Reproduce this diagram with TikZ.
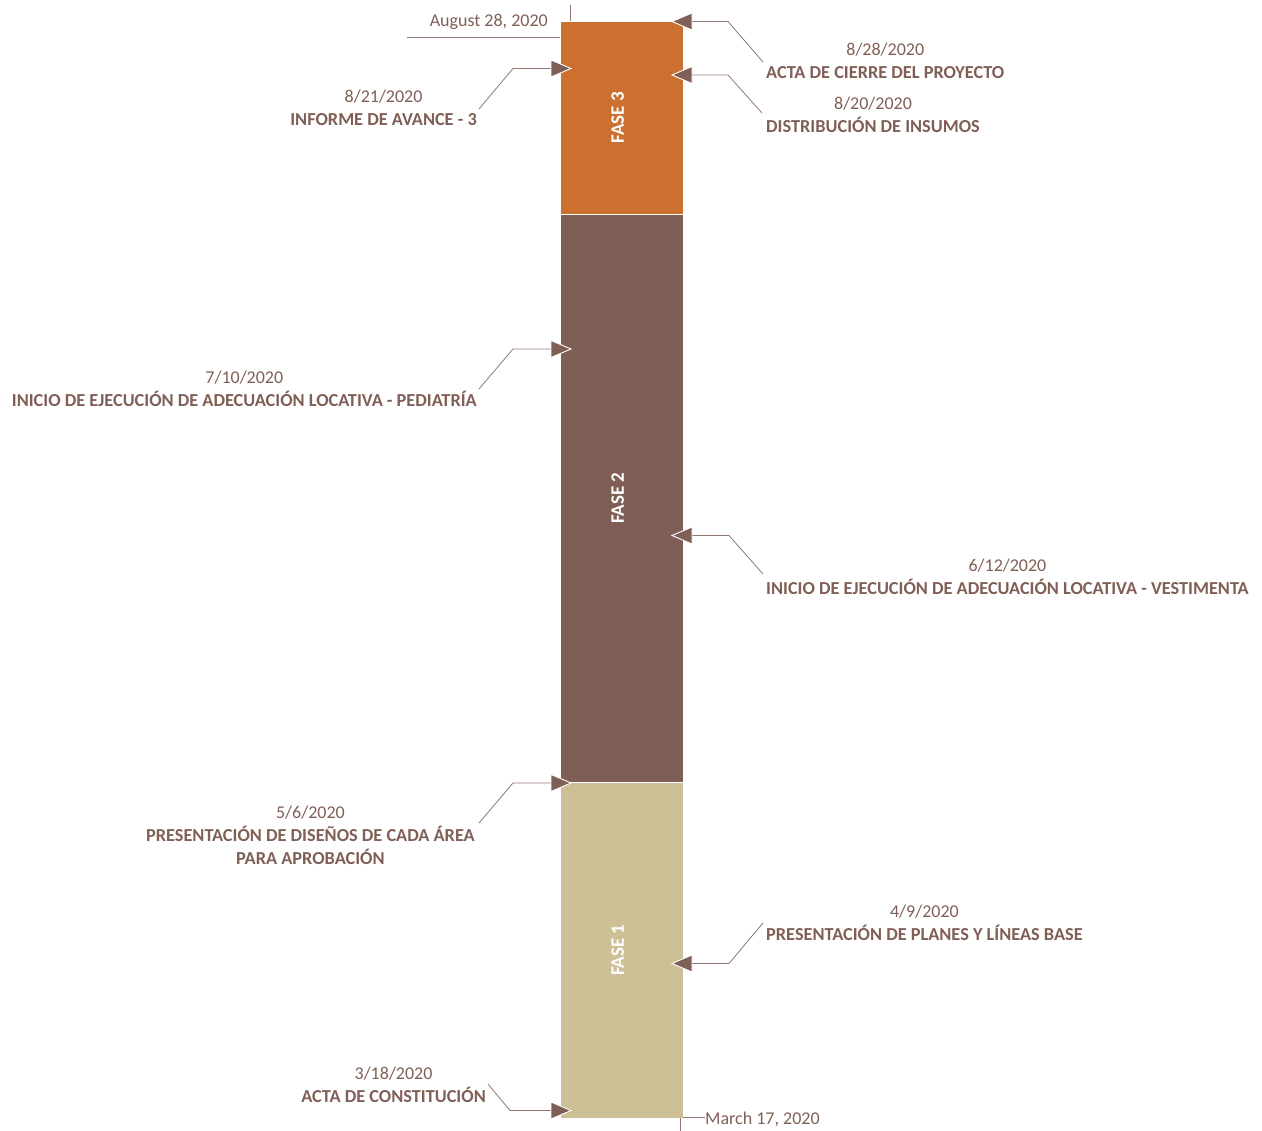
\documentclass[tikz,border=0pt]{standalone}
\usepackage{fontspec}
\setmainfont{Carlito}
\definecolor{txtbrown}{HTML}{7F5F56}
\definecolor{fasethree}{HTML}{CB702E}
\definecolor{fasetwo}{HTML}{7F5F55}
\definecolor{faseone}{HTML}{CDBF96}
\begin{document}
\begin{tikzpicture}[x=1pt,y=-1pt,
  datetxt/.style={font=\fontsize{18}{23}\selectfont, text=txtbrown, inner sep=0pt},
  titletxt/.style={font=\fontsize{18.3}{23}\selectfont\bfseries, text=txtbrown, inner sep=0pt},
  phase/.style={draw=white, line width=0.6pt, minimum width=123pt, anchor=north west, inner sep=0pt},
  phaselbl/.style={font=\fontsize{19}{22}\selectfont\bfseries, text=white, rotate=90, inner sep=0pt},
  leader/.style={draw=txtbrown!85, line width=0.8pt},
  pin/.style={fill=txtbrown, draw=white, line width=0.9pt, line join=miter},
]
\useasboundingbox (0,0) rectangle (1262,1131);

% phase bar
\node[phase, fill=fasethree, minimum height=193pt] (f3) at (560,21) {};
\node[phase, fill=fasetwo, minimum height=568pt] (f2) at (560,214) {};
\node[phase, fill=faseone, minimum height=336pt] (f1) at (560,782) {};
\node[phaselbl] (l3) at ([xshift=-4pt]f3.center) {FASE 3};
\node[phaselbl] (l2) at ([xshift=-4pt]f2.center) {FASE 2};
\node[phaselbl] (l1) at ([xshift=-4pt]f1.center) {FASE 1};

% start and end marks
\coordinate (top1) at (570,5);
\coordinate (top2) at (570,21);
\coordinate (topl) at (407,37);
\coordinate (topr) at (560,37);
\draw[leader] (top1) -- (top2);
\draw[leader] (topl) -- (topr);
\node[datetxt, anchor=base east] (endd) at (548,27) {August 28, 2020};
\coordinate (bot1) at (680,1118);
\coordinate (bot2) at (680,1131);
\coordinate (botl) at (683,1117);
\coordinate (botr) at (705,1117);
\draw[leader] (bot1) -- (bot2);
\draw[leader] (botl) -- (botr);
\node[datetxt, anchor=base west] (startd) at (705,1124.5) {March 17, 2020};

% milestone pins: left side (pointing right), right side (pointing left)
\coordinate (pa) at (571,68.5);   \coordinate (ka) at (513,68.5);  \coordinate (ea) at (479,109);
\coordinate (pb) at (571,349);    \coordinate (kb) at (513,349);   \coordinate (eb) at (479,389);
\coordinate (pc) at (571,783);    \coordinate (kc) at (513,783);   \coordinate (ec) at (479,823);
\coordinate (pd) at (571,1110.5); \coordinate (kd) at (510,1110.5);\coordinate (ed) at (488,1084);
\coordinate (qa) at (672,21.5);   \coordinate (ja) at (728,21.5);  \coordinate (fa) at (763,62);
\coordinate (qb) at (672,75);     \coordinate (jb) at (728,75);    \coordinate (fb) at (762,113);
\coordinate (qc) at (672,535.5);  \coordinate (jc) at (729,535.5); \coordinate (fc) at (763,574);
\coordinate (qd) at (672,963.5);  \coordinate (jd) at (729,963.5); \coordinate (fd) at (763,923);

\foreach \p/\k/\e in {pa/ka/ea, pb/kb/eb, pc/kc/ec, pd/kd/ed}{
  \draw[leader] ([xshift=-20pt]\p) -- (\k) -- (\e);
  \filldraw[pin] (\p) -- ++(-20,-8.5) -- ++(0,17) -- cycle;
}
\foreach \p/\k/\e in {qa/ja/fa, qb/jb/fb, qc/jc/fc, qd/jd/fd}{
  \draw[leader] ([xshift=20pt]\p) -- (\k) -- (\e);
  \filldraw[pin] (\p) -- ++(20,-8.5) -- ++(0,17) -- cycle;
}

% left labels
\node[titletxt, anchor=base east] (ta) at (477,125.5) {INFORME DE AVANCE - 3};
\node[datetxt, anchor=base] (da) at ([yshift=23pt]ta.base) {8/21/2020};
\node[titletxt, anchor=base east] (tb) at (477,406.5) {INICIO DE EJECUCIÓN DE ADECUACIÓN LOCATIVA - PEDIATRÍA};
\node[datetxt, anchor=base] (db) at ([yshift=23pt]tb.base) {7/10/2020};
\node[titletxt, anchor=base east] (tc) at (475,841) {PRESENTACIÓN DE DISEÑOS DE CADA ÁREA};
\node[titletxt, anchor=base] (tc2) at ([yshift=-23pt]tc.base) {PARA APROBACIÓN};
\node[datetxt, anchor=base] (dc) at ([yshift=23pt]tc.base) {5/6/2020};
\node[titletxt, anchor=base east] (td) at (486,1102.5) {ACTA DE CONSTITUCIÓN};
\node[datetxt, anchor=base] (dd) at ([yshift=23pt]td.base) {3/18/2020};

% right labels
\node[titletxt, anchor=base west] (sa) at (766,78.5) {ACTA DE CIERRE DEL PROYECTO};
\node[datetxt, anchor=base] (ga) at ([yshift=23pt]sa.base) {8/28/2020};
\node[titletxt, anchor=base west] (sb) at (766,132.5) {DISTRIBUCIÓN DE INSUMOS};
\node[datetxt, anchor=base] (gb) at ([yshift=23pt]sb.base) {8/20/2020};
\node[titletxt, anchor=base west] (sc) at (766,594.5) {INICIO DE EJECUCIÓN DE ADECUACIÓN LOCATIVA - VESTIMENTA};
\node[datetxt, anchor=base] (gc) at ([yshift=23pt]sc.base) {6/12/2020};
\node[titletxt, anchor=base west] (sd) at (766,940.5) {PRESENTACIÓN DE PLANES Y LÍNEAS BASE};
\node[datetxt, anchor=base] (gd) at ([yshift=23pt]sd.base) {4/9/2020};
\end{tikzpicture}
\end{document}
